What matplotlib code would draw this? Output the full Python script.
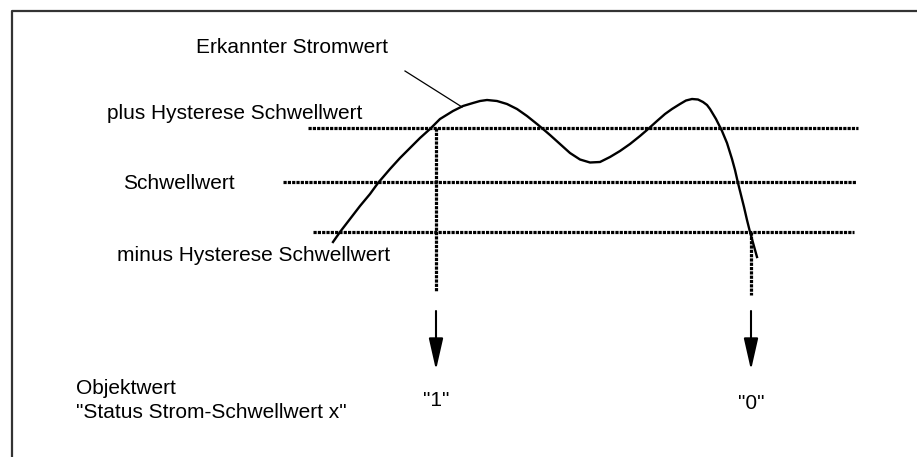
import numpy as np
import matplotlib
matplotlib.use("Agg")
import matplotlib.pyplot as plt

kurve_x = [333, 340, 350, 360, 370, 378, 390, 400, 410, 420, 430, 440, 453, 463, 473, 480,
           487, 497, 507, 517, 527, 537, 543, 550, 560, 570, 580, 590, 600, 610, 620, 630,
           640, 647, 657, 665, 672, 680, 686, 692, 698, 703, 707, 710, 713, 716, 719, 722,
           727, 732, 735, 738, 741, 744, 747, 750, 757]
kurve_y = [242, 232, 219, 206, 194, 183, 169, 158, 148, 138, 129, 119, 111, 106, 103, 101,
           100, 101, 104, 109, 116, 124, 129, 135, 144, 153, 159.5, 162.5, 162, 157, 151, 144,
           136, 130, 121, 114, 109, 104, 100.5, 99, 99.5, 102, 105, 109, 114, 119, 125, 131,
           143, 159, 170, 183, 195, 207, 220, 232, 257]

schwellen_y = [128, 182, 232]          # plus Hysterese, Schwellwert, minus Hysterese
schwellen_von = [308, 283, 313]
schwellen_bis = [858, 856, 854]
schwellen_text = ["plus Hysterese Schwellwert", "Schwellwert", "minus Hysterese Schwellwert"]
text_x = [107, 123, 117]
text_y = [119, 189, 261]

schalt_x = [436, 751]                   # Schaltpunkte
schalt_von = [128, 232]
schalt_bis = [291, 295]
objektwert = ['"1"', '"0"']

plt.rcParams['font.family'] = ['Liberation Sans', 'DejaVu Sans']

fig = plt.figure(figsize=(9.17, 4.57), dpi=100)
ax = fig.add_axes([0, 0, 1, 1])
ax.set_xlim(0, 917)
ax.set_ylim(457, 0)
ax.axis('off')

# Rahmen oben und links
ax.plot([12, 12, 917], [457, 11, 11], color='#333333', lw=1.6, solid_capstyle='butt')

punkt = (0, (1, 0.35))
for y, a, b, t, tx, ty in zip(schwellen_y, schwellen_von, schwellen_bis, schwellen_text, text_x, text_y):
    ax.plot([a, b], [y, y], color='black', lw=2.3, linestyle=punkt, dash_capstyle='butt')
    ax.text(tx, ty, t, fontsize=15, va='baseline', ha='left')

for x, a, b in zip(schalt_x, schalt_von, schalt_bis):
    ax.plot([x, x], [a, b], color='black', lw=2.3, linestyle=punkt, dash_capstyle='butt')

ax.plot(kurve_x, kurve_y, color='black', lw=1.7, solid_joinstyle='round')

# Beschriftung der Kurve mit Hinweislinie
ax.plot([405, 462], [71, 107], color='black', lw=0.9)
ax.text(196, 53, "Erkannter Stromwert", fontsize=15, va='baseline', ha='left')

# Pfeile und Objektwerte
for x, w, ty in zip(schalt_x, objektwert, [406, 409]):
    ax.annotate("", xy=(x, 370), xytext=(x, 311),
                arrowprops=dict(arrowstyle="-|>,head_length=0.97,head_width=0.22",
                                color='black', lw=1.5, shrinkA=0, shrinkB=0,
                                mutation_scale=20))
    ax.text(x, ty, w, fontsize=15, va='baseline', ha='center')

ax.text(76, 394, "Objektwert", fontsize=15, va='baseline', ha='left')
ax.text(76, 418, '"Status Strom-Schwellwert x"', fontsize=15, va='baseline', ha='left')

fig.savefig("out.png", dpi=100)
